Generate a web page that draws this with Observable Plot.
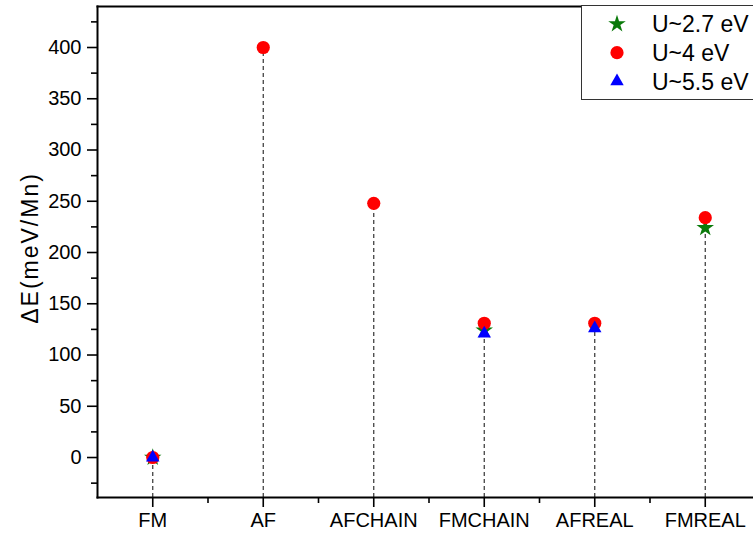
<!DOCTYPE html>
<html>
<head>
<meta charset="utf-8">
<script src="https://cdn.jsdelivr.net/npm/d3@7"></script>
<script src="https://cdn.jsdelivr.net/npm/@observablehq/plot@0.6"></script>
<style>
  html, body { margin: 0; padding: 0; background: #fff; overflow: hidden; }
  #wrap { position: relative; width: 753px; height: 539px; overflow: hidden; font-family: "Liberation Sans", Arial, sans-serif; }
  #legend { position: absolute; left: 581px; top: 5px; width: 200px; height: 93px; border: 1.3px solid #333; background: #fff; }
</style>
</head>
<body>
<div id="wrap"></div>
<script>
// Categories (x axis)
const categories = ["FM", "AF", "AFCHAIN", "FMCHAIN", "AFREAL", "FMREAL"];
// Series values (meV/Mn); null = no point
const u27 = [0, null, null, 124, null, 224];   // U~2.7 eV (star)
const u4  = [0, 400, 248, 131, 131, 234];      // U~4 eV (circle)
const u55 = [0, null, null, 121, 126, null];   // U~5.5 eV (triangle)
const seriesNames = ["U~2.7 eV", "U~4 eV", "U~5.5 eV"];
const yTicks = [0, 50, 100, 150, 200, 250, 300, 350, 400];
const yMinor = [-25, 25, 75, 125, 175, 225, 275, 325, 375, 425];
const xMinor = [0.5, 1.5, 2.5, 3.5, 4.5];

const toRows = (vals) => vals.map((v, i) => ({i, cat: categories[i], v})).filter(d => d.v != null);
const rows27 = toRows(u27), rows4 = toRows(u4), rows55 = toRows(u55);
const drops = categories.map((c, i) => ({i, top: d3.max([u27[i], u4[i], u55[i]].filter(v => v != null))}));

const yMin = -39, yMax = 440;
const font = 20;
const yLabel = "ΔE(meV/Mn)";

const plot = Plot.plot({
  width: 753,
  height: 539,
  marginLeft: 97,
  marginRight: 0,
  marginTop: 6,
  marginBottom: 42,
  style: {fontFamily: "Liberation Sans, Arial, sans-serif", fontSize: font + "px", color: "#000", background: "#fff"},
  x: {type: "linear", domain: [-0.5, 5.5], range: [97, 760]},
  y: {domain: [yMin, yMax]},
  marks: [
    Plot.ruleX(drops, {x: "i", y1: yMin, y2: "top", stroke: "#333", strokeWidth: 1.2, strokeDasharray: "4,3"}),
    Plot.dot(rows27, {x: "i", y: "v", symbol: "star", r: 5.5, fill: "#0a7a0a", stroke: "none"}),
    Plot.dot(rows4, {x: "i", y: "v", symbol: "circle", r: 6.6, fill: "#ff0000", stroke: "none"}),
    Plot.dot(rows55, {x: "i", y: "v", symbol: "triangle", r: 5, fill: "#0000ff", stroke: "none"}),
    Plot.axisY({ticks: yTicks, tickSize: 10, tickPadding: 6, fontSize: font, label: null, strokeWidth: 1.6}),
    Plot.axisY({ticks: yMinor, tickSize: 6, text: null, label: null, strokeWidth: 1.6}),
    Plot.axisX({ticks: [0, 1, 2, 3, 4, 5], tickFormat: i => categories[i], tickSize: 10, tickPadding: 5, fontSize: font, label: null, strokeWidth: 1.6}),
    Plot.axisX({ticks: xMinor, tickSize: 6, text: null, label: null, strokeWidth: 1.6}),
    Plot.frame({anchor: "left", stroke: "#000", strokeWidth: 2}),
    Plot.frame({anchor: "bottom", stroke: "#000", strokeWidth: 2}),
    Plot.frame({anchor: "top", stroke: "#000", strokeWidth: 2}),
    Plot.text([yLabel], {frameAnchor: "left", textAnchor: "middle", dx: -67, dy: -4, rotate: -90, fontSize: 23, fill: "#000"})
  ]
});

const wrap = document.getElementById("wrap");
wrap.appendChild(plot);
plot.querySelectorAll("text").forEach(t => { if (t.textContent === yLabel) t.setAttribute("letter-spacing", "2"); });

// Legend box (HTML overlay with symbol keys)
const legend = document.createElement("div");
legend.id = "legend";
const symbols = [d3.symbolStar, d3.symbolCircle, d3.symbolTriangle];
const colors = ["#0a7a0a", "#ff0000", "#0000ff"];
const sizes = [Math.PI * 5.5 * 5.5, Math.PI * 6.6 * 6.6, Math.PI * 5 * 5];
const ns = "http://www.w3.org/2000/svg";
const svg = document.createElementNS(ns, "svg");
svg.setAttribute("width", 200);
svg.setAttribute("height", 93);
seriesNames.forEach((name, k) => {
  const cy = 18 + k * 28.7;
  const p = document.createElementNS(ns, "path");
  p.setAttribute("d", d3.symbol(symbols[k], sizes[k])());
  p.setAttribute("transform", `translate(35,${cy})`);
  p.setAttribute("fill", colors[k]);
  svg.appendChild(p);
  const t = document.createElementNS(ns, "text");
  t.setAttribute("x", 70);
  t.setAttribute("y", cy);
  t.setAttribute("dy", "0.36em");
  t.setAttribute("font-size", "23px");
  t.setAttribute("font-family", "Liberation Sans, Arial, sans-serif");
  t.textContent = name;
  svg.appendChild(t);
});
legend.appendChild(svg);
wrap.appendChild(legend);
</script>
</body>
</html>
